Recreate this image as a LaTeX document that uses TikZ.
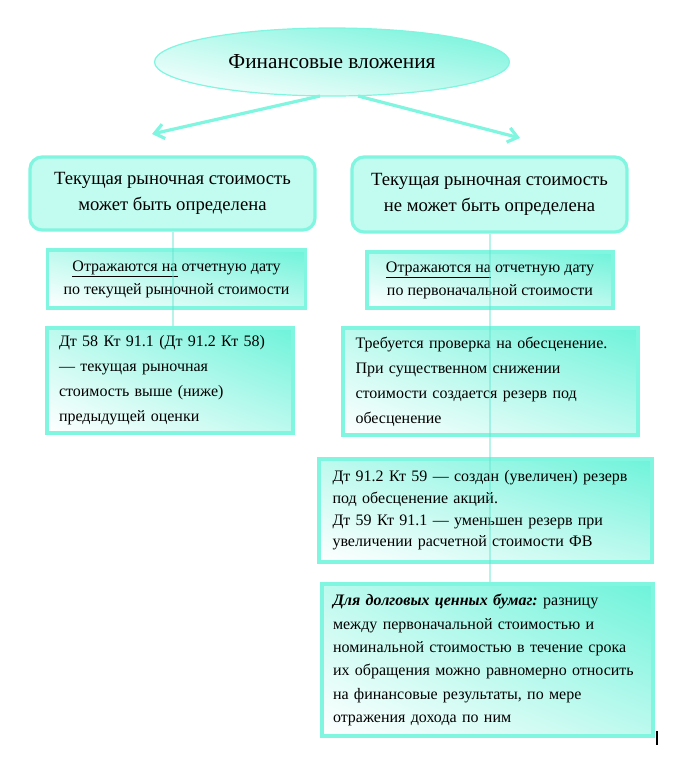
\documentclass[tikz,border=0pt]{standalone}
\usepackage{fontspec}
\setmainfont{Liberation Serif}
\usetikzlibrary{arrows.meta,shapes.geometric,shadings}
\definecolor{aq}{HTML}{6EF3DA}
\definecolor{aqb}{HTML}{80F5DF}
\definecolor{aqt}{HTML}{C2FBEF}
\definecolor{aqline}{HTML}{62E4CF}
\begin{document}
\frenchspacing
\begin{tikzpicture}[x=0.75pt,y=-0.75pt,
  grad/.style={upper right=aq, lower left=white, upper left=aq!45!white, lower right=aq!45!white},
  topbox/.style={draw=aqb, line width=2.4pt, fill=aqt, rounded corners=9pt, inner sep=0pt, align=center, font=\fontsize{14}{19.5}\selectfont},
  box/.style={grad, draw=aqb, line width=2.8pt, inner sep=0pt},
  arr/.style={draw=aqb, line width=2.4pt, -{Straight Barb[length=7pt,width=11pt,line width=2.4pt]}},
  conn/.style={draw=aqline, line width=1.5pt, opacity=0.45}]
\useasboundingbox (0,0) rectangle (693,768);

\node[ellipse, grad, draw=aqb, line width=0.9pt, minimum width=355*0.75pt, minimum height=68*0.75pt, inner sep=0pt,
      font=\fontsize{16}{18}\selectfont] (fv) at (332,62) {Финансовые вложения};

\node[topbox, minimum width=285*0.75pt, minimum height=73*0.75pt] (tl) at (172.5,193.5)
  {Текущая рыночная стоимость\\ может быть определена};
\node[topbox, minimum width=275*0.75pt, minimum height=75*0.75pt] (tr) at (489.5,194.5)
  {Текущая рыночная стоимость\\ не может быть определена};

\coordinate (fvl) at (320,96);
\coordinate (fvr) at (358,96);
\coordinate (tipl) at (152,134);
\coordinate (tipr) at (520,138);
\draw[arr] (fvl) -- (tipl);
\draw[arr] (fvr) -- (tipr);

\node[box, minimum width=258*0.75pt, minimum height=58*0.75pt, align=center,
      font=\fontsize{12}{17.3}\selectfont] (l2) at (176.5,279)
  {\underline{Отражаются на} отчетную дату\\ по текущей рыночной стоимости};
\node[box, minimum width=246*0.75pt, minimum height=105*0.75pt, text width=222*0.75pt, align=left,
      font=\fontsize{12}{18.7}\selectfont] (l3) at (170,380.5)
  {Дт 58 Кт 91.1 (Дт 91.2 Кт 58)\\ — текущая рыночная\\ стоимость выше (ниже)\\ предыдущей оценки};

\node[box, minimum width=246*0.75pt, minimum height=56*0.75pt, align=center,
      font=\fontsize{12}{17.3}\selectfont] (r2) at (490,280)
  {\underline{Отражаются на} отчетную дату\\ по первоначальной стоимости};
\node[box, minimum width=295*0.75pt, minimum height=107*0.75pt, text width=270*0.75pt, align=left,
      font=\fontsize{12}{18.7}\selectfont] (r3) at (490.5,381.5)
  {Требуется проверка на обесценение.\\ При существенном снижении\\ стоимости создается резерв под\\ обесценение};
\node[box, minimum width=333*0.75pt, minimum height=103*0.75pt, text width=306*0.75pt, align=left,
      font=\fontsize{12}{16.3}\selectfont] (r4) at (485.5,510.5)
  {Дт 91.2 Кт 59 — создан (увеличен) резерв\\ под обесценение акций.\\ Дт 59 Кт 91.1 — уменьшен резерв при\\ увеличении расчетной стоимости ФВ};
\node[box, minimum width=331*0.75pt, minimum height=152*0.75pt, text width=309*0.75pt, align=left,
      font=\fontsize{12}{17.5}\selectfont] (r5) at (487.5,660)
  {\textbf{\textit{Для долговых ценных бумаг:}} разницу\\ между первоначальной стоимостью и\\ номинальной стоимостью в течение срока\\ их обращения можно равномерно относить\\ на финансовые результаты, по мере\\ отражения дохода по ним};

\draw[conn] (tl.south) -- (tl.south |- l3.north);
\draw[conn] (tr.south) -- (tr.south |- r5.north);

\coordinate (cur1) at (657,731);
\coordinate (cur2) at (657,745);
\draw[line width=1.2pt] (cur1) -- (cur2);
\end{tikzpicture}
\end{document}
